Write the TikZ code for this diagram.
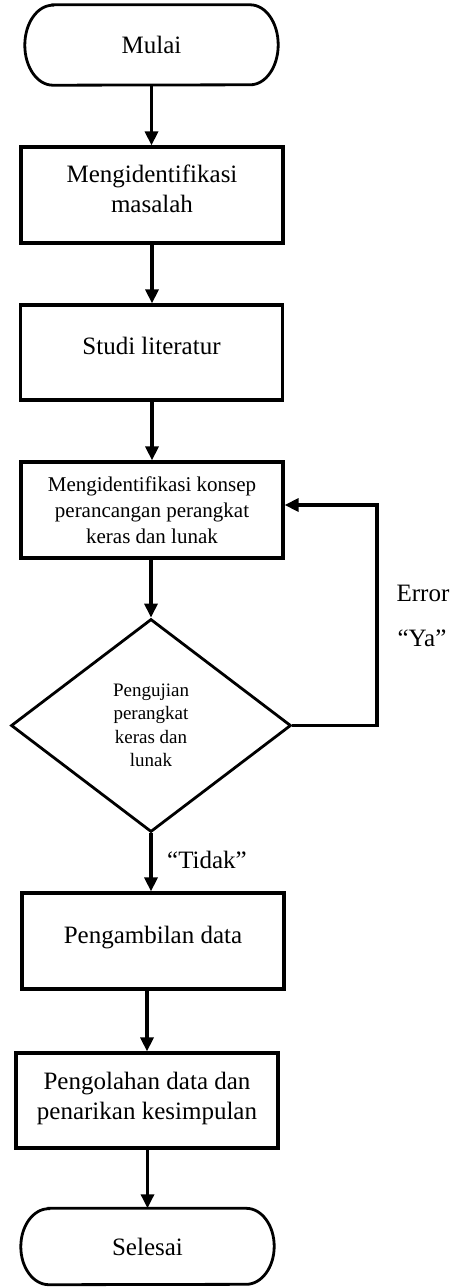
\documentclass[tikz,border=0pt]{standalone}
\usepackage{fontspec}
\setmainfont{Liberation Serif}
\usetikzlibrary{arrows.meta,shapes.geometric}
\tikzset{
  boxnode/.style={draw, line width=3.2pt, minimum width=262pt, minimum height=96pt, inner sep=0pt, align=center, font=\fontsize{25}{30}\selectfont},
  termnode/.style={minimum width=253pt, minimum height=80pt, inner sep=0pt, align=center, font=\fontsize{25}{30}\selectfont},
  decnode/.style={draw, diamond, line width=2.8pt, minimum width=280pt, minimum height=213pt, inner sep=0pt, align=center, font=\fontsize{19}{23.5}\selectfont},
  lbl/.style={font=\fontsize{25}{30}\selectfont, inner sep=0pt},
  arr/.style={line width=3.2pt, -{Triangle[length=14pt,width=13pt]}},
  outline/.style={line width=2.8pt}
}
\begin{document}
\begin{tikzpicture}[x=1pt,y=-1pt]
\useasboundingbox (0,0) rectangle (451,1287);
% terminals
\node[termnode] (t1) at (151.5,45) {Mulai};
\draw[outline] ([xshift=28pt]t1.north west) -- ([xshift=-28pt]t1.north east)
  arc[start angle=90,end angle=-90,x radius=28pt,y radius=40pt]
  -- ([xshift=28pt]t1.south west)
  arc[start angle=270,end angle=90,x radius=28pt,y radius=40pt] -- cycle;
\node[boxnode, text depth=12pt] (b1) at (152,195) {Mengidentifikasi\\masalah};
\node[boxnode, minimum height=95pt, text depth=14pt] (b2) at (151.5,352.5) {Studi literatur};
\node[boxnode, font=\fontsize{21}{26}\selectfont] (b3) at (152,510) {Mengidentifikasi konsep\\perancangan perangkat\\keras dan lunak};
\node[decnode] (d) at (151,725.5) {Pengujian\\perangkat\\keras dan\\lunak};
\node[boxnode, text depth=13pt] (b4) at (153,941) {Pengambilan data};
\node[boxnode, minimum height=95pt, text depth=9pt] (b5) at (147,1100.5) {Pengolahan data dan\\penarikan kesimpulan};
\node[termnode, minimum height=76pt] (t2) at (147.5,1246.5) {Selesai};
\draw[outline] ([xshift=28pt]t2.north west) -- ([xshift=-28pt]t2.north east)
  arc[start angle=90,end angle=-90,x radius=28pt,y radius=38pt]
  -- ([xshift=28pt]t2.south west)
  arc[start angle=270,end angle=90,x radius=28pt,y radius=38pt] -- cycle;
% labels
\node[lbl] (err) at (423,593) {Error};
\node[lbl] (ya) at (422,638) {“Ya”};
\node[lbl] (tdk) at (207,860) {“Tidak”};
% connectors
\draw[arr] (t1.south) -- (t1.south |- b1.north);
\draw[arr] (b1.south) -- (b1.south |- b2.north);
\draw[arr] (b2.south -| b3) -- (b3.north);
\draw[arr] (b3.south -| d) -- (d.north);
\draw[arr] (d.south) -- (d.south |- b4.north);
\draw[arr] (b4.south -| b5) -- (b5.north);
\draw[arr] (b5.south -| t2) -- (t2.north);
\coordinate (lp) at (377,505);
\draw[arr] (d.east) -| (lp) -- (lp -| b3.east);
\end{tikzpicture}
\end{document}
